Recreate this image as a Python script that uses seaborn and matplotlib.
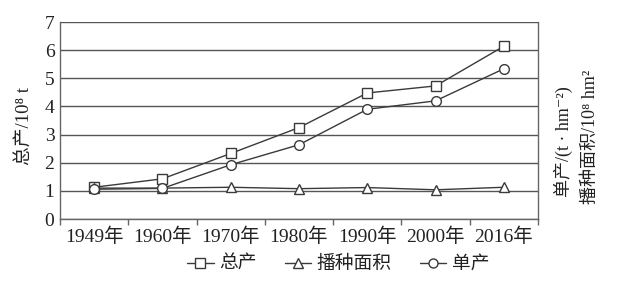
import matplotlib
matplotlib.use("Agg")
import matplotlib.pyplot as plt
import seaborn as sns
import pandas as pd
import numpy as np
from matplotlib.lines import Line2D

years = ["1949年", "1960年", "1970年", "1980年", "1990年", "2000年", "2016年"]
total = [1.13, 1.43, 2.33, 3.25, 4.48, 4.73, 6.14]
area = [1.10, 1.10, 1.13, 1.08, 1.12, 1.04, 1.13]
yield_ = [1.06, 1.09, 1.93, 2.64, 3.90, 4.20, 5.34]
series_names = ["总产", "播种面积", "单产"]

sns.set_theme(style="white")
plt.rcParams['font.family'] = ['Liberation Serif', 'Noto Sans CJK SC', 'DejaVu Sans']

idx = np.arange(len(years))
df = pd.DataFrame({
    "x": np.tile(idx, 3),
    "value": total + area + yield_,
    "series": np.repeat(series_names, len(years)),
})

fig = plt.figure(figsize=(6.23, 2.86), dpi=100)
ax = fig.add_axes([0.0963, 0.234, 0.7673, 0.689])

line_c = "#3a3a3a"
sns.lineplot(data=df, x="x", y="value", hue="series", style="series",
             markers={"总产": "s", "播种面积": "^", "单产": "o"}, dashes=False,
             palette={s: line_c for s in series_names}, ax=ax,
             markersize=7, markerfacecolor="white", markeredgecolor=line_c,
             markeredgewidth=1.0, linewidth=1.0, legend=False)

ax.set_xlim(-0.5, len(years) - 0.5)
ax.set_ylim(0, 7)
ax.set_yticks(range(0, 8))
ax.yaxis.grid(True, color="#555555", linewidth=1.0)
ax.set_axisbelow(True)
ax.set_xticks(idx)
ax.set_xticklabels(years)
ax.set_xticks(np.arange(-0.5, len(years)), minor=True)
ax.tick_params(axis="x", which="major", length=0, labelsize=14, pad=6, colors="#222222")
ax.tick_params(axis="x", which="minor", length=4, width=1, color="#666666", direction="out", bottom=True)
ax.tick_params(axis="y", length=0, labelsize=14, pad=4, colors="#222222")
for s in ["left", "bottom", "right"]:
    ax.spines[s].set_color("#666666")
    ax.spines[s].set_linewidth(1.0)
ax.spines["top"].set_visible(False)
ax.set_xlabel("")
ax.set_ylabel("")

fig.text(0.04, 0.56, "总产/10⁸ t", rotation=90, ha="center", va="center",
         fontsize=13.5, color="#222222")
fig.text(0.905, 0.505, "单产/(t · hm⁻²)", rotation=90, ha="center", va="center",
         fontsize=13, color="#222222")
fig.text(0.948, 0.52, "播种面积/10⁸ hm²", rotation=90, ha="center", va="center",
         fontsize=13, color="#222222")

handles = [Line2D([], [], color=line_c, lw=1.0, marker=m, markersize=6.5,
                  markerfacecolor="white", markeredgecolor=line_c)
           for m in ["s", "^", "o"]]
fig.legend(handles, series_names, loc="center", bbox_to_anchor=(0.543, 0.075), ncol=3,
           frameon=False, fontsize=13.5, handlelength=1.4, handletextpad=0.3,
           columnspacing=1.5, labelcolor="#222222")

fig.savefig("out.png", dpi=100, facecolor="white")
